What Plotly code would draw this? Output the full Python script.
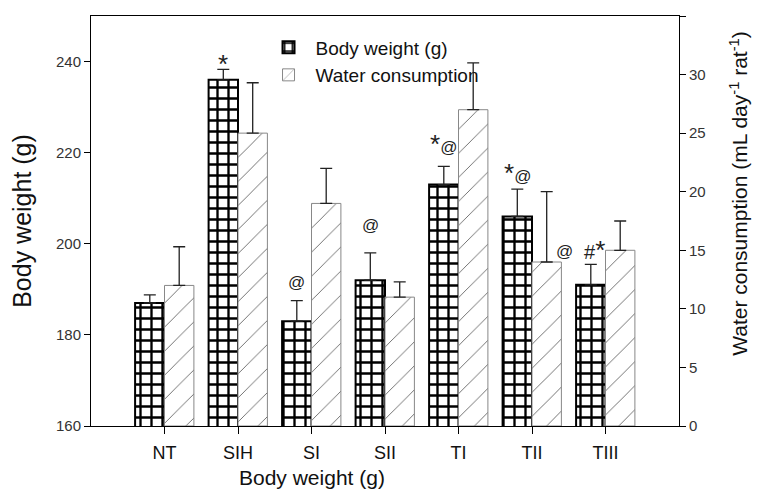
import plotly.graph_objects as go

groups = ["NT", "SIH", "SI", "SII", "TI", "TII", "TIII"]
body_weight = [187, 236, 183, 192, 213, 206, 191]
body_weight_err = [1.8, 2.3, 4.5, 6, 4, 6, 4.5]
water = [12, 25, 19, 11, 27, 14, 15]
water_err = [3.3, 4.3, 3, 1.3, 4, 6, 2.5]

# significance marks: text, x in category units, y in body-weight units
marks_text = ["*", "@", "@", "*@", "*@", "@", "#*"]
marks_x = [0.8, 1.8, 2.8, 3.8, 4.8, 5.44, 5.85]
marks_y = [239.5, 191.5, 204, 221.8, 215.6, 198.2, 198.7]

xpos = list(range(len(groups)))


def styled(t):
    out = ""
    for ch in t:
        if ch == "*":
            out += '<span style="font-size:26px">*</span>'
        elif ch == "#":
            out += '<span style="font-size:20px">#</span>'
        else:
            out += '<span style="font-size:17px">@</span>'
    return out


fig = go.Figure()
fig.add_trace(go.Bar(
    x=xpos, y=body_weight, name="Body weight (g)",
    offset=-0.4, width=0.4, yaxis="y",
    marker=dict(color="white", line=dict(color="black", width=2),
                pattern=dict(shape="+", fgcolor="black", bgcolor="white",
                             size=11, solidity=0.38, fgopacity=1)),
    error_y=dict(type="data", symmetric=False, array=body_weight_err,
                 arrayminus=[0] * len(groups), color="#222", thickness=1.3, width=6),
))
fig.add_trace(go.Bar(
    x=xpos, y=water, name="Water consumption",
    offset=0, width=0.4, yaxis="y2",
    marker=dict(color="white", line=dict(color="#888", width=1),
                pattern=dict(shape="/", fgcolor="#6a6a6a", bgcolor="white",
                             size=17, solidity=0.055, fgopacity=1)),
    error_y=dict(type="data", symmetric=False, array=water_err,
                 arrayminus=[0] * len(groups), color="#222", thickness=1.3, width=6),
))

for t, xx, yy in zip(marks_text, marks_x, marks_y):
    fig.add_annotation(x=xx, y=yy, xref="x", yref="y", text=styled(t), showarrow=False,
                       font=dict(family="Arial, Liberation Sans", size=17, color="#222"))

fig.add_annotation(x=2, y=-0.092, xref="x", yref="paper", yanchor="top",
                   text="Body weight (g)", showarrow=False,
                   font=dict(family="Arial, Liberation Sans", size=21, color="#111"))

# right axis title
fig.add_annotation(x=1.127, y=0.568, xref="paper", yref="paper",
                   text="Water consumption (mL day<sup>-1</sup> rat<sup>-1</sup>)",
                   textangle=-90, showarrow=False,
                   font=dict(family="Arial, Liberation Sans", size=21, color="#111"))

# page body has an 8px default margin, so the figure is sized to fit the window
fig.update_layout(
    width=753, height=486,
    margin=dict(l=83, r=82, t=8, b=68, autoexpand=False),
    paper_bgcolor="white", plot_bgcolor="white",
    font=dict(family="Arial, Liberation Sans", color="#222"),
    showlegend=True,
    legend=dict(x=0.29, y=0.97, xanchor="left", yanchor="top",
                bgcolor="rgba(0,0,0,0)", font=dict(size=19, color="#111"),
                itemwidth=44, tracegroupgap=0),
    xaxis=dict(range=[-1, 7], tickvals=xpos, ticktext=groups, automargin=False,
               showline=True, linecolor="black", linewidth=1, mirror=True,
               ticks="outside", ticklen=7, tickcolor="black", ticklabelstandoff=3,
               showgrid=False, zeroline=False,
               tickfont=dict(size=18, color="#111")),
    yaxis=dict(range=[160, 250], tickvals=[160, 180, 200, 220, 240], automargin=False,
               title=dict(text="Body weight (g)", font=dict(size=25, color="#111"), standoff=17),
               showline=True, linecolor="black", linewidth=1,
               ticks="outside", ticklen=6, tickcolor="black",
               showgrid=False, zeroline=False,
               tickfont=dict(size=15, color="#333")),
    yaxis2=dict(range=[0, 35], tickvals=[0, 5, 10, 15, 20, 25, 30, 35], automargin=False,
                overlaying="y", side="right",
                showline=True, linecolor="black", linewidth=1,
                ticks="outside", ticklen=6, tickcolor="black",
                showgrid=False, zeroline=False,
                tickfont=dict(size=15, color="#333")),
)

fig.write_html("out.html")
